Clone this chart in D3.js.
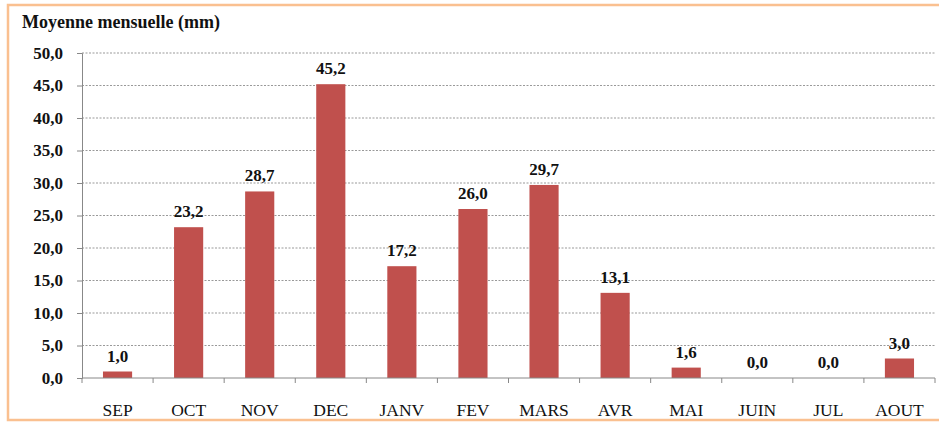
<!DOCTYPE html>
<html><head><meta charset="utf-8">
<script src="https://cdn.jsdelivr.net/npm/d3@7"></script>
<style>body{margin:0;background:#fff}svg{display:block}text{font-family:"Liberation Serif","Times New Roman",serif}</style>
</head><body>
<script>
const months = ["SEP","OCT","NOV","DEC","JANV","FEV","MARS","AVR","MAI","JUIN","JUL","AOUT"];
const values = [1.0,23.2,28.7,45.2,17.2,26.0,29.7,13.1,1.6,0.0,0.0,3.0];
const yTicks = [0,5,10,15,20,25,30,35,40,45,50];
const title = "Moyenne mensuelle (mm)";

const W=939,H=423;
const m={left:82,right:4,top:53,bottom:45};
const svg=d3.select("body").append("svg").attr("width",W).attr("height",H);
svg.append("rect").attr("x",8).attr("y",5).attr("width",W+10).attr("height",415)
  .attr("fill","#fff").attr("stroke","#fac090").attr("stroke-width",2.5);
const fmt=v=>d3.format(".1f")(v).replace(".",",");
const x=d3.scaleBand().domain(months).range([m.left,W-m.right]).paddingInner(0.59).paddingOuter(0.295);
const y=d3.scaleLinear().domain([0,50]).range([H-m.bottom,m.top]);

svg.append("text").attr("x",22).attr("y",28)
  .attr("font-weight","bold").attr("font-size",18).attr("fill","#111").text(title);

// grid
svg.append("g").selectAll("line").data(yTicks.filter(d=>d>0)).join("line")
  .attr("x1",m.left).attr("x2",W-m.right).attr("y1",d=>y(d)).attr("y2",d=>y(d))
  .attr("stroke","#999").attr("stroke-width",1).attr("stroke-dasharray","2,1.5");

// y axis
const ya=svg.append("g").attr("transform",`translate(${m.left},0)`)
  .call(d3.axisLeft(y).tickValues(yTicks).tickFormat(fmt).tickSizeOuter(0).tickSize(5).tickPadding(14));
ya.attr("font-family",null);
ya.select(".domain").attr("stroke","#888");
ya.selectAll(".tick line").attr("stroke","#888");
ya.selectAll("text").attr("font-weight","bold").attr("font-size",17).attr("fill","#111");

// bars
svg.append("g").selectAll("rect").data(values).join("rect")
  .attr("x",(d,i)=>x(months[i])).attr("width",x.bandwidth())
  .attr("y",d=>y(d)).attr("height",d=>y(0)-y(d)).attr("fill","#c0504d");

// x axis
const xa=svg.append("g").attr("transform",`translate(0,${y(0)})`);
xa.append("line").attr("x1",m.left).attr("x2",W-m.right).attr("stroke","#888");
xa.selectAll("line.t").data(d3.range(months.length+1)).join("line").attr("class","t")
  .attr("x1",i=>m.left+i*(W-m.right-m.left)/months.length).attr("x2",i=>m.left+i*(W-m.right-m.left)/months.length)
  .attr("y1",0).attr("y2",5).attr("stroke","#888");
xa.selectAll("text").data(months).join("text")
  .attr("x",d=>x(d)+x.bandwidth()/2).attr("y",38).attr("text-anchor","middle")
  .attr("font-size",17.5).attr("fill","#111").text(d=>d);

// value labels
svg.append("g").selectAll("text").data(values).join("text")
  .attr("x",(d,i)=>x(months[i])+x.bandwidth()/2).attr("y",d=>y(d)-10).attr("text-anchor","middle")
  .attr("font-weight","bold").attr("font-size",17).attr("fill","#111")
  .text(d=>fmt(d));
</script>
</body></html>
